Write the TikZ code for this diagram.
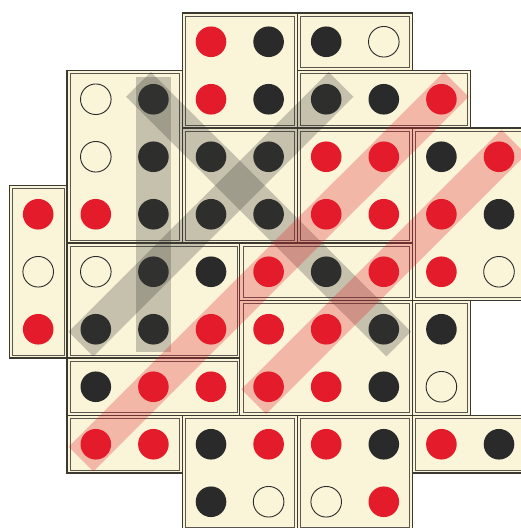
\documentclass[tikz,border=0pt]{standalone}
\usetikzlibrary{calc}
\definecolor{cream}{HTML}{FAF4D8}
\definecolor{dotred}{HTML}{E31B2A}
\definecolor{dotblack}{HTML}{2A2A2A}
\definecolor{edgec}{HTML}{3C3931}
\definecolor{bandgray}{HTML}{3A3A36}
\tikzset{
  tileouter/.style={fill=cream, draw=edgec, line width=1.1pt},
  tileinner/.style={draw=edgec!85, line width=0.6pt},
  dotR/.style={fill=dotred},
  dotK/.style={fill=dotblack},
  dotE/.style={draw=dotblack, line width=0.9pt},
  grayband/.style={line width=35pt, draw=bandgray, draw opacity=0.27},
  redband/.style={line width=35pt, draw=dotred, draw opacity=0.28},
}
\newcommand\tileR[4]{%
  \draw[tileouter] (#1,#2) rectangle (#3,#4);
  \draw[tileinner] ($(#1,#2)+(3pt,-3pt)$) rectangle ($(#3,#4)+(-3pt,3pt)$);}
\begin{document}
\begin{tikzpicture}[x=57.6pt,y=-57.5pt]
\useasboundingbox (-9.4pt,13pt) rectangle (511.6pt,-515pt);
% tiles
\tileR{3}{0}{5}{2}
\tileR{5}{0}{7}{1}
\tileR{5}{1}{8}{2}
\tileR{1}{1}{3}{4}
\tileR{3}{2}{5}{4}
\tileR{5}{2}{7}{4}
\tileR{7}{2}{9}{5}
\tileR{0}{3}{1}{6}
\tileR{1}{4}{4}{6}
\tileR{4}{4}{7}{5}
\tileR{4}{5}{7}{7}
\tileR{7}{5}{8}{7}
\tileR{1}{6}{4}{7}
\tileR{1}{7}{3}{8}
\tileR{3}{7}{5}{9}
\tileR{5}{7}{7}{9}
\tileR{7}{7}{9}{8}
% dots
\foreach \c/\r/\t in {
 3/0/R,4/0/K,5/0/K,6/0/E,
 1/1/E,2/1/K,3/1/R,4/1/K,5/1/K,6/1/K,7/1/R,
 1/2/E,2/2/K,3/2/K,4/2/K,5/2/R,6/2/R,7/2/K,8/2/R,
 0/3/R,1/3/R,2/3/K,3/3/K,4/3/K,5/3/R,6/3/R,7/3/R,8/3/K,
 0/4/E,1/4/E,2/4/K,3/4/K,4/4/R,5/4/K,6/4/R,7/4/R,8/4/E,
 0/5/R,1/5/K,2/5/K,3/5/R,4/5/R,5/5/R,6/5/K,7/5/K,
 1/6/K,2/6/R,3/6/R,4/6/R,5/6/R,6/6/K,7/6/E,
 1/7/R,2/7/R,3/7/K,4/7/R,5/7/R,6/7/K,7/7/R,8/7/K,
 3/8/K,4/8/E,5/8/E,6/8/R}{
  \coordinate (p\c\r) at (\c+0.5,\r+0.5);
  \ifx\t E
    \path[dotE] (p\c\r) circle[radius=14.3pt];
  \else
    \path[dot\t] (p\c\r) circle[radius=15.3pt];
  \fi
}
% bands
\draw[grayband] ($(p21)!-22pt!(p25)$) -- ($(p25)!-23pt!(p21)$);
\draw[grayband] ($(p21)!-21pt!(p65)$) -- ($(p65)!-21pt!(p21)$);
\draw[grayband] ($(p15)!-21pt!(p51)$) -- ($(p51)!-21pt!(p15)$);
\draw[redband] ($(p17)!-21pt!(p71)$) -- ($(p71)!-21pt!(p17)$);
\draw[redband] ($(p46)!-21pt!(p82)$) -- ($(p82)!-21pt!(p46)$);
\end{tikzpicture}
\end{document}
